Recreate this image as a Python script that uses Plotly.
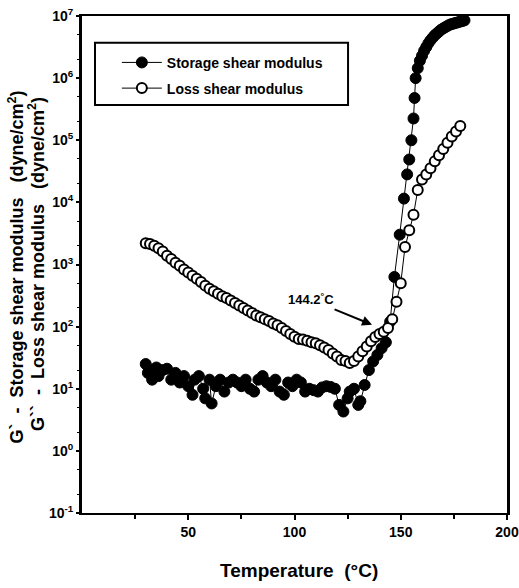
import plotly.graph_objects as go

# ---- data ----
storage_T = [30, 31, 32, 33, 35, 36, 38, 40, 42, 44, 46, 48, 50, 52, 53, 55, 57, 58, 60, 61,
             63, 65, 67, 69, 71, 73, 75, 77, 79, 81, 83, 85, 87, 89, 91, 93, 95, 97, 99, 101,
             103, 105, 107, 109, 111, 113, 115, 117, 119, 121, 123, 125, 126, 128, 130, 131, 133, 135, 137, 139,
             141, 143, 145, 147, 149.5, 151.5, 153, 154, 155, 156, 156.5, 157, 158, 159, 160, 161, 162, 163, 164, 165,
             166, 167, 168, 169, 170, 171, 172, 173, 174, 175, 176, 177, 178, 179, 180]
storage_G = [25, 18, 20, 14, 22, 16, 20, 21, 14, 18, 12.6, 16, 11, 8, 14, 16, 10, 7, 14, 5.8,
             11, 14, 9, 12.6, 14, 12.6, 11, 14, 10, 9, 14, 16, 12.6, 11, 14, 9, 8, 12.6, 11, 14,
             12.6, 9, 10, 9.5, 9, 10.5, 11, 10.7, 10, 5.5, 4.3, 7, 9, 10, 5.5, 6.3, 11.5, 20, 27.5, 35,
             45, 56, 120, 630, 3020, 11500, 28200, 49000, 100000, 224000, 479000, 1000000, 1445000, 1905000, 2290000,
             2750000, 3160000, 3630000, 4070000, 4470000,
             4900000, 5250000, 5620000, 6030000, 6310000, 6610000, 6920000, 7240000, 7410000, 7590000,
             7760000, 7940000, 8130000, 8320000, 8510000]

loss_T = [30, 32, 34, 36, 38, 40, 42, 44, 46, 48, 50, 52, 54, 56, 58, 60, 62, 64, 66, 68,
          70, 72, 74, 76, 78, 80, 82, 84, 86, 88, 90, 92, 94, 96, 98, 100, 102, 104, 106, 108,
          110, 112, 114, 116, 118, 120, 122, 124, 126, 128, 130, 132, 134, 136, 138, 140, 142, 144, 146, 148,
          150, 152, 154, 156, 158, 160, 162, 164, 166, 168, 170, 172, 174, 176, 178]
loss_G = [2190, 2140, 2000, 1820, 1620, 1380, 1230, 1070, 955, 832, 741, 661, 589, 525, 457, 407, 372, 339, 309, 288,
          263, 240, 219, 200, 182, 166, 151, 141, 132, 123, 112, 105, 95, 85, 76, 69, 63, 62, 59, 56,
          54, 50, 46, 42, 37, 33, 29, 28, 26, 28, 33, 40, 48, 58, 68, 76, 83, 95, 132, 251,
          501, 1905, 3548, 6310, 15850, 23440, 28180, 35480, 45710, 57540, 72440, 91200, 114800, 138000, 169800]

x_tick_vals = [50, 100, 150, 200]
x_minor_vals = [25, 75, 125, 175]
y_tick_vals = [0.1, 1, 10, 100, 1000, 1e4, 1e5, 1e6, 1e7]
y_tick_text = ["10<sup>-1</sup>", "10<sup>0</sup>", "10<sup>1</sup>", "10<sup>2</sup>", "10<sup>3</sup>",
               "10<sup>4</sup>", "10<sup>5</sup>", "10<sup>6</sup>", "10<sup>7</sup>"]

FONT = "Liberation Sans, Arial, sans-serif"
NB = "\u00a0"

fig = go.Figure()
fig.add_trace(go.Scatter(
    x=storage_T, y=storage_G, mode="lines+markers", name="Storage shear modulus",
    legendgroup="s",
    line=dict(color="black", width=1),
    marker=dict(symbol="circle", size=11, color="black", line=dict(color="black", width=1)),
))
fig.add_trace(go.Scatter(
    x=loss_T, y=loss_G, mode="lines+markers", name="Loss shear modulus",
    legendgroup="l",
    line=dict(color="black", width=1),
    marker=dict(symbol="circle", size=10, color="white", line=dict(color="black", width=2)),
))

fig.update_layout(
    template="none",
    width=519, height=588,
    margin=dict(l=82, r=12, t=16, b=75, autoexpand=False),
    paper_bgcolor="white", plot_bgcolor="white",
    font=dict(family=FONT, color="black", size=13, weight="bold"),
    showlegend=True,
    legend=dict(
        x=0.082, y=0.938, xanchor="left", yanchor="top",
        borderwidth=0, bgcolor="rgba(0,0,0,0)",
        font=dict(family=FONT, size=14, color="black", weight="bold"),
        tracegroupgap=4.5, itemwidth=40,
    ),
    xaxis=dict(
        range=[0, 200], tickmode="array", tickvals=x_tick_vals,
        ticks="outside", ticklen=5, tickwidth=2, tickcolor="black",
        showline=True, linecolor="black", linewidth=2, mirror=True,
        showgrid=False, zeroline=False, automargin=False,
        tickfont=dict(family=FONT, size=14, color="black", weight="bold"),
        minor=dict(tickmode="array", tickvals=x_minor_vals, ticks="outside", ticklen=4,
                   tickwidth=2, tickcolor="black", showgrid=False),
    ),
    yaxis=dict(
        type="log", range=[-1, 7], tickmode="array", tickvals=y_tick_vals, ticktext=y_tick_text,
        ticks="outside", ticklen=3, tickwidth=2, tickcolor="black",
        showline=True, linecolor="black", linewidth=3, mirror=True,
        showgrid=False, zeroline=False, automargin=False,
        tickfont=dict(family=FONT, size=14, color="black", weight="bold"),
        minor=dict(ticks="outside", ticklen=2, tickwidth=1, tickcolor="black", showgrid=False),
    ),
)

# legend frame
fig.add_shape(type="rect", xref="paper", yref="paper", x0=0.0306, x1=0.626, y0=0.821, y1=0.946,
              line=dict(color="black", width=2), fillcolor="rgba(0,0,0,0)", layer="above")

# two-line y-axis title
title1 = "G`" + NB * 2 + "-" + NB * 2 + "Storage" + NB + "shear" + NB + "modulus" + NB * 3 + "(dyne/cm<sup>2</sup>)"
title2 = "G``" + NB * 2 + "-" + NB * 2 + "Loss" + NB + "shear" + NB + "modulus" + NB * 3 + "(dyne/cm<sup>2</sup>)"
fig.add_annotation(xref="paper", yref="paper", x=-0.155, y=0.494, text=title1,
                   textangle=-90, showarrow=False, xanchor="center", yanchor="middle",
                   font=dict(family=FONT, size=18, color="black", weight="bold"))
fig.add_annotation(xref="paper", yref="paper", x=-0.108, y=0.501, text=title2,
                   textangle=-90, showarrow=False, xanchor="center", yanchor="middle",
                   font=dict(family=FONT, size=18, color="black", weight="bold"))

# x-axis title
fig.add_annotation(xref="paper", yref="paper", x=0.51, y=-0.1167,
                   text="Temperature" + NB * 2 + "(°C)", showarrow=False, xanchor="center", yanchor="middle",
                   font=dict(family=FONT, size=19, color="black", weight="bold"))

# 144.2 °C label and arrow
fig.add_annotation(x=107.8, y=2.45, xref="x", yref="y", text="144.2<sup>°</sup>C",
                   showarrow=False, font=dict(family=FONT, size=13, color="black", weight="bold"))
fig.add_annotation(x=136.5, y=2.03, xref="x", yref="y", text="",
                   showarrow=True, arrowhead=2, arrowsize=1, arrowwidth=2, arrowcolor="black",
                   ax=-39, ay=-16, axref="pixel", ayref="pixel")

fig.write_html("out.html")
